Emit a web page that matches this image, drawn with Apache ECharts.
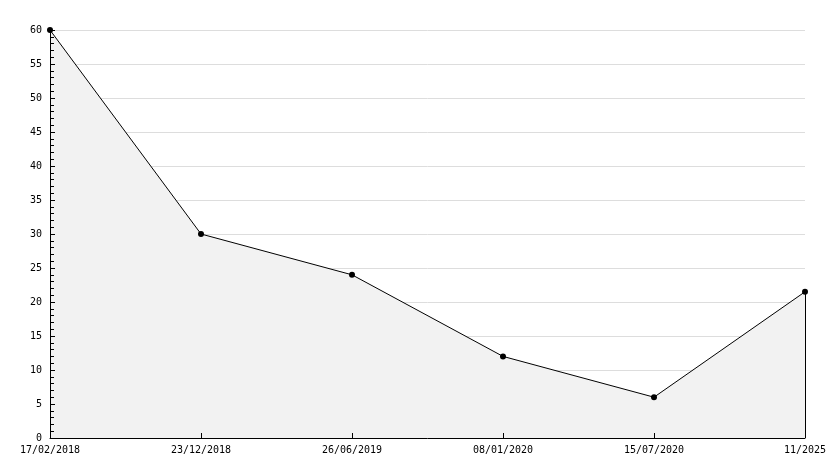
<!DOCTYPE html>
<html><head><meta charset="utf-8">
<script src="https://cdn.jsdelivr.net/npm/echarts@6/dist/echarts.min.js"></script>
<style>html,body{margin:0;padding:0;background:#fff}#c{width:834px;height:468px}</style>
</head><body><div id="c"></div>
<script>
const categories = ['17/02/2018','23/12/2018','26/06/2019','08/01/2020','15/07/2020','11/2025'];
const values = [60, 30, 24, 12, 6, 21.5];
const yMin = 0, yMax = 60, yStep = 5;

const chart = echarts.init(document.getElementById('c'), null, {renderer:'canvas'});
const font = {fontFamily:'DejaVu Sans Mono', fontSize:10, color:'#000'};
const lastIdx = categories.length - 1;
chart.setOption({
  animation:false,
  backgroundColor:'#fff',
  grid:{left:50, right:29, top:30, bottom:30, containLabel:false},
  xAxis:{
    type:'category', data:categories, boundaryGap:false, z:5,
    axisLine:{lineStyle:{color:'#000', width:1}},
    axisTick:{inside:true, length:5, alignWithLabel:true, lineStyle:{color:'#000'}},
    axisLabel:Object.assign({margin:7, interval:0}, font),
    splitLine:{show:false}
  },
  yAxis:[{
    type:'value', min:yMin, max:yMax, interval:yStep, position:'left', z:0,
    axisLine:{show:false}, axisTick:{show:false}, axisLabel:{show:false},
    splitLine:{show:true, lineStyle:{color:'#dddddd', width:1}}
  },{
    type:'value', min:yMin, max:yMax, interval:yStep, position:'left', offset:0, z:5,
    axisLine:{show:true, lineStyle:{color:'#000', width:1}},
    axisTick:{show:true, inside:true, length:5, lineStyle:{color:'#000'}},
    minorTick:{show:true, splitNumber:5, length:4, lineStyle:{color:'#000'}},
    axisLabel:Object.assign({margin:8, verticalAlign:'middle', padding:[2,0,0,0]}, font),
    splitLine:{show:false}
  }],
  series:[{
    type:'line', data:values, yAxisIndex:0,
    symbol:'circle', symbolSize:6,
    itemStyle:{color:'#000'},
    lineStyle:{color:'#000', width:1},
    areaStyle:{color:'#f2f2f2', opacity:1},
    markLine:{
      silent:true, symbol:'none', label:{show:false},
      lineStyle:{color:'#000', width:1, type:'solid'},
      data:[[{coord:[categories[lastIdx], yMin]},{coord:[categories[lastIdx], values[lastIdx]]}]]
    }
  }]
});
</script></body></html>
